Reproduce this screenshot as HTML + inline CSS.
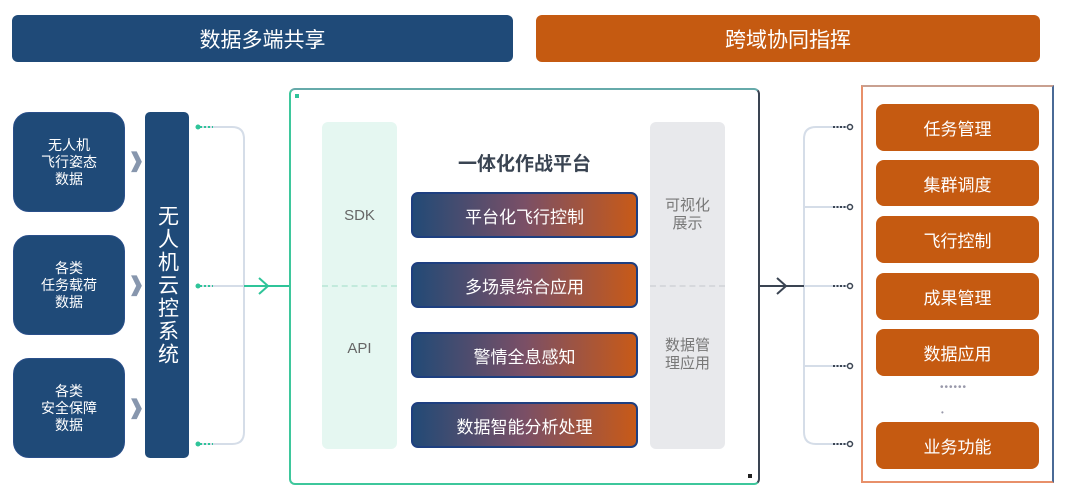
<!DOCTYPE html>
<html><head><meta charset="utf-8"><style>
body{margin:0;width:1080px;height:497px;background:#fff;position:relative;overflow:hidden;font-family:"Liberation Sans","Noto Sans CJK SC",sans-serif}
.a{position:absolute;box-sizing:border-box}
.c{display:flex;align-items:center;justify-content:center;text-align:center}
.top{color:#fff;font-size:21px;border-radius:6px}
.lb{background:#1f4a78;border:1px solid #2a4f8a;border-radius:16px;color:#fff;font-size:14px;line-height:17px}
.cb{background:linear-gradient(90deg,#224a76,#7a4f66 50%,#c85a18);border:2px solid #1e3f80;border-radius:7px;color:#fff;font-size:17px}
.ob{background:#c55a11;border-radius:8px;color:#fff;font-size:17px}
.chev{color:#8796ad;font-size:20px;font-weight:bold}
</style></head><body>
<div class="a c top" style="left:12px;top:15px;width:501px;height:47px;background:#1f4a78">数据多端共享</div>
<div class="a c top" style="left:536px;top:15px;width:504px;height:47px;background:#c55a11">跨域协同指挥</div>

<div class="a c lb" style="left:13px;top:112px;width:112px;height:100px">无人机<br>飞行姿态<br>数据</div>
<div class="a c lb" style="left:13px;top:235px;width:112px;height:100px">各类<br>任务载荷<br>数据</div>
<div class="a c lb" style="left:13px;top:358px;width:112px;height:100px">各类<br>安全保障<br>数据</div>
<div class="a chev" style="left:128px;top:148px">❱</div>
<div class="a chev" style="left:128px;top:272px">❱</div>
<div class="a chev" style="left:128px;top:395px">❱</div>
<div class="a c" style="left:145px;top:112px;width:44px;height:346px;background:#1f4a78;border-radius:5px;color:#fff;font-size:21px;line-height:31px;writing-mode:vertical-rl;letter-spacing:2px">无人机云控系统</div>

<svg class="a" style="left:0;top:0" width="1080" height="497">
<g fill="none" stroke="#d5dde8" stroke-width="2">
<path d="M200 127 H232 Q244 127 244 139 V432 Q244 444 232 444 H200"/>
<path d="M200 286 H289"/>
<path d="M850 127 H816 Q804 127 804 139 V432 Q804 444 816 444 H850"/>
<path d="M804 207 H850 M804 286 H850 M804 366 H850"/>
</g>
<g stroke="#2fc499" stroke-width="2" fill="none">
<path d="M200 127 H213 M200 286 H213 M200 444 H213" stroke-dasharray="2 2"/>
<path d="M244 286 H289"/><path d="M259 278 L268 286 L259 294"/>
</g>
<g fill="#2fc499"><circle cx="198" cy="127" r="2.5"/><circle cx="198" cy="286" r="2.5"/><circle cx="198" cy="444" r="2.5"/></g>
<g stroke="#3a4452" stroke-width="2" fill="none">
<path d="M759 286 H804"/><path d="M777 278 L786 286 L777 294"/>
<path d="M833 127 H848 M833 207 H848 M833 286 H848 M833 366 H848 M833 444 H848" stroke-dasharray="2 1.5"/>
</g>
<g fill="#fff" stroke="#3a4452" stroke-width="1.5"><circle cx="850" cy="127" r="2.5"/><circle cx="850" cy="207" r="2.5"/><circle cx="850" cy="286" r="2.5"/><circle cx="850" cy="366" r="2.5"/><circle cx="850" cy="444" r="2.5"/></g>
</svg>

<div class="a" style="left:289px;top:88px;width:471px;height:397px;border:2px solid #3ec79c;border-right-color:#3a4452;border-top-color:#6aa;border-radius:6px"></div>
<div class="a" style="left:295px;top:94px;width:4px;height:4px;background:#2fc499"></div>
<div class="a" style="left:748px;top:474px;width:4px;height:4px;background:#222"></div>
<div class="a" style="left:322px;top:122px;width:75px;height:327px;background:#e5f7f1;border-radius:6px"></div>
<div class="a" style="left:650px;top:122px;width:75px;height:327px;background:#e8e9ec;border-radius:6px"></div>
<div class="a" style="left:322px;top:285px;width:75px;border-top:2px dashed #c2eadc"></div>
<div class="a" style="left:650px;top:285px;width:75px;border-top:2px dashed #d6d8dc"></div>
<div class="a c" style="left:322px;top:205px;width:75px;height:20px;color:#666;font-size:15px">SDK</div>
<div class="a c" style="left:322px;top:338px;width:75px;height:20px;color:#666;font-size:15px">API</div>
<div class="a c" style="left:650px;top:195px;width:75px;height:40px;color:#777;font-size:15px;line-height:18px">可视化<br>展示</div>
<div class="a c" style="left:650px;top:335px;width:75px;height:40px;color:#777;font-size:15px;line-height:18px">数据管<br>理应用</div>
<div class="a c" style="left:411px;top:148px;width:227px;height:28px;color:#3a4452;font-size:19px;font-weight:bold">一体化作战平台</div>
<div class="a c cb" style="left:411px;top:192px;width:227px;height:46px">平台化飞行控制</div>
<div class="a c cb" style="left:411px;top:262px;width:227px;height:46px">多场景综合应用</div>
<div class="a c cb" style="left:411px;top:332px;width:227px;height:46px">警情全息感知</div>
<div class="a c cb" style="left:411px;top:402px;width:227px;height:46px">数据智能分析处理</div>

<div class="a" style="left:861px;top:85px;width:193px;height:398px;border:2px solid #e8906a;border-right-color:#4a6a96;border-top-color:#c9a090"></div>
<div class="a c ob" style="left:876px;top:104px;width:163px;height:47px">任务管理</div>
<div class="a c ob" style="left:876px;top:160px;width:163px;height:46px">集群调度</div>
<div class="a c ob" style="left:876px;top:216px;width:163px;height:47px">飞行控制</div>
<div class="a c ob" style="left:876px;top:273px;width:163px;height:47px">成果管理</div>
<div class="a c ob" style="left:876px;top:329px;width:163px;height:47px">数据应用</div>
<div class="a" style="left:940px;top:382px;color:#99a;font-size:10px;letter-spacing:1px">••••••</div>
<div class="a" style="left:941px;top:408px;color:#99a;font-size:8px">•</div>
<div class="a c ob" style="left:876px;top:422px;width:163px;height:47px">业务功能</div>
</body></html>
